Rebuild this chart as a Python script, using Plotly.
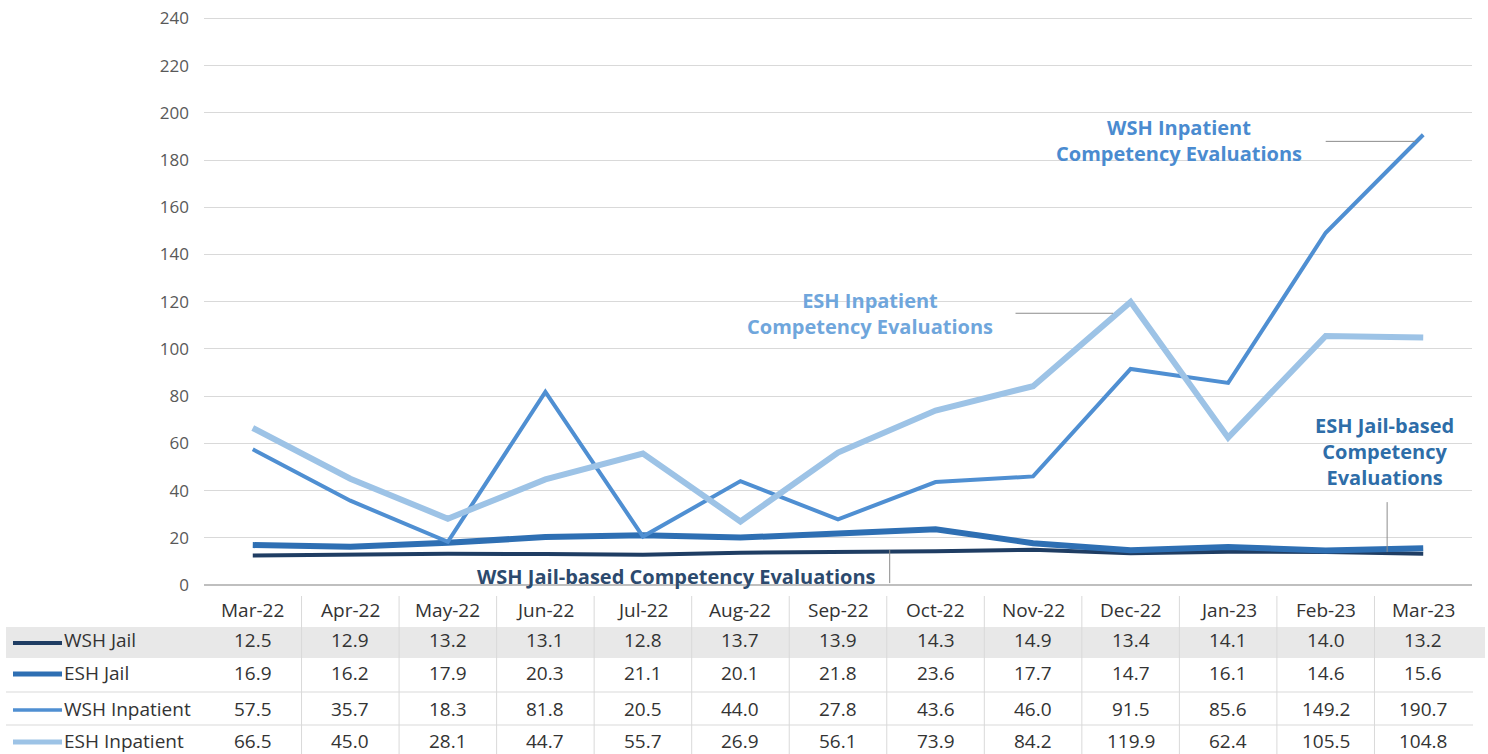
import plotly.graph_objects as go

# ---- data ----
categories = ["Mar-22", "Apr-22", "May-22", "Jun-22", "Jul-22", "Aug-22", "Sep-22",
              "Oct-22", "Nov-22", "Dec-22", "Jan-23", "Feb-23", "Mar-23"]
series_names = ["WSH Jail", "ESH Jail", "WSH Inpatient", "ESH Inpatient"]
wsh_jail = [12.5, 12.9, 13.2, 13.1, 12.8, 13.7, 13.9, 14.3, 14.9, 13.4, 14.1, 14.0, 13.2]
esh_jail = [16.9, 16.2, 17.9, 20.3, 21.1, 20.1, 21.8, 23.6, 17.7, 14.7, 16.1, 14.6, 15.6]
wsh_inpatient = [57.5, 35.7, 18.3, 81.8, 20.5, 44.0, 27.8, 43.6, 46.0, 91.5, 85.6, 149.2, 190.7]
esh_inpatient = [66.5, 45.0, 28.1, 44.7, 55.7, 26.9, 56.1, 73.9, 84.2, 119.9, 62.4, 105.5, 104.8]
y_ticks = [0, 20, 40, 60, 80, 100, 120, 140, 160, 180, 200, 220, 240]

# ---- styling ----
W, H = 1488, 754
L, R, T, B = 204, 1472, 16, 585
Y_MAX = 241
FONT = "Open Sans"
colors = ["#1f3d63", "#2e6fb3", "#4f8fd2", "#9dc3e6"]
widths = [4, 6, 4, 6]
key_widths = [4, 5, 3.5, 5]
values = [wsh_jail, esh_jail, wsh_inpatient, esh_inpatient]


def pxx(px):
    return (px - L) / (R - L)


def pxy(py):
    return (B - py) / (B - T)


xs = list(range(len(categories)))

fig = go.Figure()
for name, vals, c, w in zip(series_names, values, colors, widths):
    fig.add_trace(go.Scatter(x=xs, y=vals, mode="lines", name=name,
                             line=dict(color=c, width=w), showlegend=False))

shapes = []
annotations = []

# grey band behind first table row
shapes.append(dict(type="rect", xref="paper", yref="paper",
                   x0=pxx(6), x1=pxx(1485), y0=pxy(627), y1=pxy(658),
                   fillcolor="#e8e8e8", line=dict(width=0), layer="below"))
# horizontal row separators
for py in [692, 725]:
    shapes.append(dict(type="line", xref="paper", yref="paper",
                       x0=pxx(6), x1=pxx(1473), y0=pxy(py), y1=pxy(py),
                       line=dict(color="#d9d9d9", width=1)))
# vertical column separators
for i in range(len(categories) - 1):
    shapes.append(dict(type="line", xref="x", yref="paper",
                       x0=i + 0.5, x1=i + 0.5, y0=pxy(596), y1=pxy(756),
                       line=dict(color="#d9d9d9", width=1)))

row_text_y = [640, 673, 709, 741]
row_key_y = [643, 674, 710, 742]
for name, vals, c, kw, ty, ky in zip(series_names, values, colors, key_widths,
                                     row_text_y, row_key_y):
    shapes.append(dict(type="line", xref="paper", yref="paper",
                       x0=pxx(13), x1=pxx(62), y0=pxy(ky), y1=pxy(ky),
                       line=dict(color=c, width=kw)))
    annotations.append(dict(xref="paper", yref="paper", x=pxx(62), y=pxy(ty),
                            text=name, showarrow=False, xanchor="left",
                            yanchor="middle",
                            font=dict(family=FONT, size=19, color="#333333")))
    for i, v in enumerate(vals):
        annotations.append(dict(xref="x", yref="paper", x=i, y=pxy(ty),
                                text=f"{v:.1f}", showarrow=False,
                                xanchor="center", yanchor="middle",
                                font=dict(family=FONT, size=19, color="#333333")))

# header row (month labels)
for i, cat in enumerate(categories):
    annotations.append(dict(xref="x", yref="paper", x=i, y=pxy(610),
                            text=cat, showarrow=False, xanchor="center",
                            yanchor="middle",
                            font=dict(family=FONT, size=19, color="#333333")))

# series labels with leader lines
label_font = dict(family=FONT, size=20, weight="bold")
annotations += [
    dict(xref="x", yref="y", x=9.5, y=188.4,
         text="WSH Inpatient<br>Competency Evaluations", showarrow=False,
         font=dict(**label_font, color="#4a8bd0")),
    dict(xref="x", yref="y", x=6.33, y=115.1,
         text="ESH Inpatient<br>Competency Evaluations", showarrow=False,
         font=dict(**label_font, color="#6fa6dc")),
    dict(xref="x", yref="y", x=11.6, y=56.7,
         text="ESH Jail-based<br>Competency<br>Evaluations", showarrow=False,
         font=dict(**label_font, color="#2e6da8")),
    dict(xref="x", yref="y", x=4.34, y=3.6,
         text="WSH Jail-based Competency Evaluations", showarrow=False,
         font=dict(**label_font, color="#2c4a6e")),
]
leader = dict(color="#8c8c8c", width=1)
shapes += [
    dict(type="line", xref="x", yref="y", x0=11.0, x1=11.92, y0=187.9, y1=187.9, line=leader),
    dict(type="line", xref="x", yref="y", x0=7.82, x1=8.82, y0=115.1, y1=115.1, line=leader),
    dict(type="line", xref="x", yref="y", x0=11.63, x1=11.63, y0=35.1, y1=14.0, line=leader),
    dict(type="line", xref="x", yref="y", x0=6.53, x1=6.53, y0=14.8, y1=0.8, line=leader),
]

fig.update_layout(
    width=W, height=H,
    margin=dict(l=L, r=W - R, t=T, b=H - B, pad=0, autoexpand=False),
    plot_bgcolor="white", paper_bgcolor="white",
    shapes=shapes, annotations=annotations,
    xaxis=dict(range=[-0.5, len(categories) - 0.5], tickvals=xs,
               ticktext=categories, showticklabels=False, showgrid=False,
               zeroline=False, showline=False, fixedrange=True,
               automargin=False),
    yaxis=dict(range=[0, Y_MAX], tickvals=y_ticks, showgrid=True,
               gridcolor="#d9d9d9", gridwidth=1, zeroline=True,
               zerolinecolor="#bfbfbf", zerolinewidth=1.5, showline=False,
               ticks="", ticklabelstandoff=14, automargin=False,
               tickfont=dict(family=FONT, size=17, color="#595959")),
)

fig.write_html("out.html", config={"displayModeBar": False})

# remove the default page margin so the figure fills the window exactly
with open("out.html", "r", encoding="utf-8") as f:
    html = f.read()
html = html.replace("<body>", '<body style="margin:0;padding:0;overflow:hidden">', 1)
with open("out.html", "w", encoding="utf-8") as f:
    f.write(html)
